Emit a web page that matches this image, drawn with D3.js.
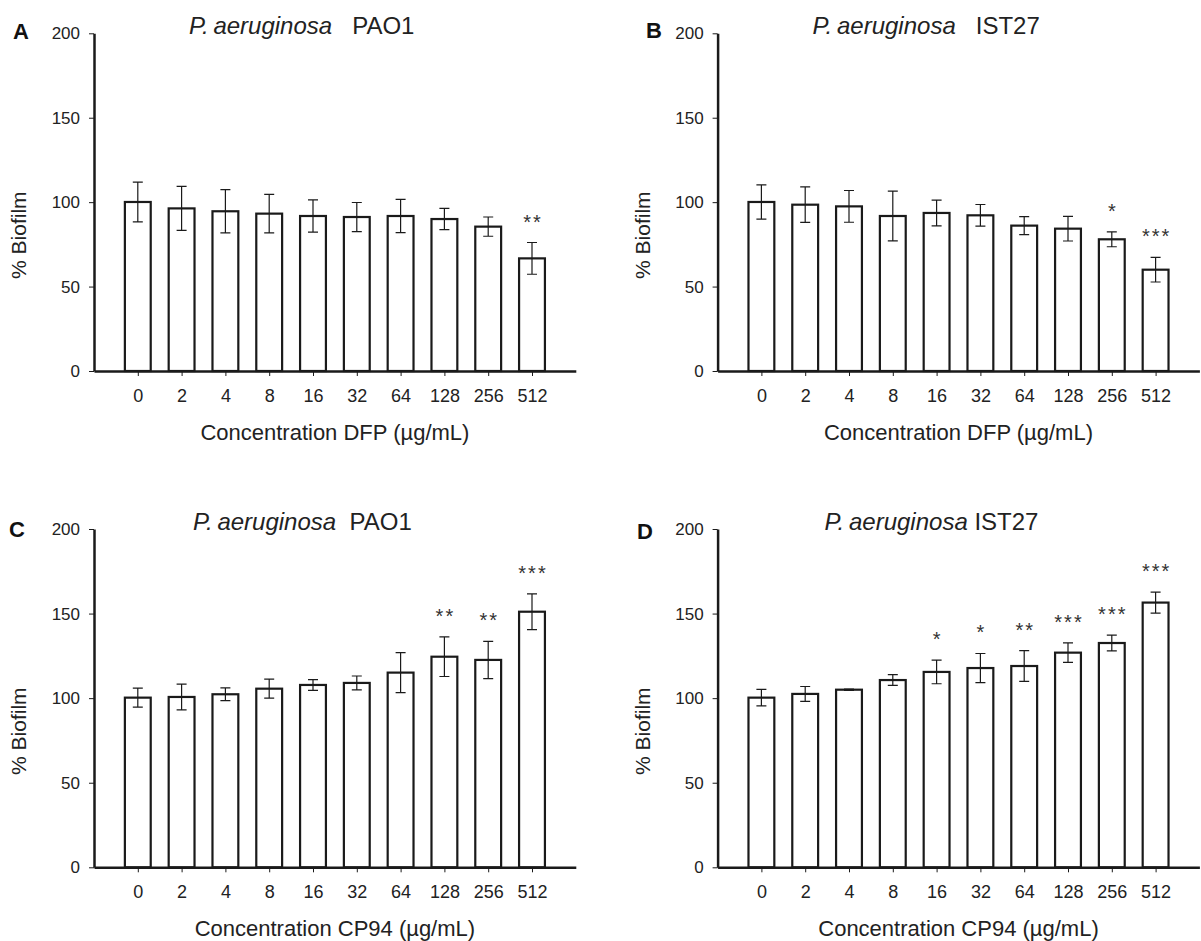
<!DOCTYPE html>
<html>
    <head>
        <meta charset="utf-8">
        <title>Biofilm</title>
        <script src="https://d3js.org/d3.v7.min.js" charset="utf-8"></script>
        <style>
            body { margin: 0; background: #fff; }
            svg { font-family: "Liberation Sans", Arial, sans-serif; }
            .axis path, .axis line { stroke: #1a1a1a; }
            .axis text { fill: #222; }
            .bar { fill: #fff; stroke: #1a1a1a; stroke-width: 2.2px; }
            .err { stroke: #1a1a1a; stroke-width: 1.2px; fill: none; }
        </style>
    </head>
    <body>
        <script>
            var width = 1201;
            var height = 941;

            // podaci
            var concentrations = ["0", "2", "4", "8", "16", "32", "64", "128", "256", "512"];
            var yTicks = [0, 50, 100, 150, 200];

            var dfpPao1 = [100.1, 96.3, 94.6, 93.2, 91.8, 91.2, 91.8, 90.0, 85.5, 66.7];
            var dfpPao1Err = [11.8, 13.0, 12.8, 11.4, 9.5, 8.6, 9.8, 6.3, 5.7, 9.4];
            var dfpPao1Sig = ["", "", "", "", "", "", "", "", "", "**"];

            var dfpIst27 = [100.1, 98.5, 97.5, 91.8, 93.6, 92.2, 86.1, 84.3, 78.0, 60.0];
            var dfpIst27Err = [10.1, 10.5, 9.4, 14.7, 7.6, 6.4, 5.3, 7.3, 4.4, 7.3];
            var dfpIst27Sig = ["", "", "", "", "", "", "", "", "*", "***"];

            var cp94Pao1 = [100.3, 100.7, 102.3, 105.6, 107.8, 109.0, 115.1, 124.5, 122.6, 151.1];
            var cp94Pao1Err = [5.6, 7.6, 3.8, 5.6, 3.2, 4.1, 11.8, 11.7, 11.0, 10.6];
            var cp94Pao1Sig = ["", "", "", "", "", "", "", "**", "**", "***"];

            var cp94Ist27 = [100.3, 102.5, 105.0, 110.7, 115.5, 117.8, 119.0, 126.9, 132.6, 156.5];
            var cp94Ist27Err = [4.9, 4.4, 0.4, 3.2, 7.0, 8.6, 9.1, 5.8, 4.7, 6.2];
            var cp94Ist27Sig = ["", "", "", "", "*", "*", "**", "***", "***", "***"];

            var panels = [
                {letter: "A", strain: "PAO1", drug: "DFP", mean: dfpPao1, err: dfpPao1Err, sig: dfpPao1Sig},
                {letter: "B", strain: "IST27", drug: "DFP", mean: dfpIst27, err: dfpIst27Err, sig: dfpIst27Sig},
                {letter: "C", strain: "PAO1", drug: "CP94", mean: cp94Pao1, err: cp94Pao1Err, sig: cp94Pao1Sig},
                {letter: "D", strain: "IST27", drug: "CP94", mean: cp94Ist27, err: cp94Ist27Err, sig: cp94Ist27Sig}
            ];

            // raspored panela (lijevi rub osi, vrh = 200, dno = 0)
            var layout = [
                {left: 94, top: 33.3, bottom: 371, titleDx: 95, gap: "\u00a0\u00a0\u00a0", letterX: 13, letterY: 39},
                {left: 717.6, top: 33.3, bottom: 371, titleDx: 95, gap: "\u00a0\u00a0\u00a0", letterX: 646, letterY: 38},
                {left: 94, top: 529, bottom: 867.3, titleDx: 99, gap: "\u00a0\u00a0", letterX: 9, letterY: 537},
                {left: 717.6, top: 529, bottom: 867.3, titleDx: 107, gap: "\u00a0", letterX: 637, letterY: 539}
            ];
            var plotWidth = 481.8;

            var svg = d3.select("body").append("svg")
                            .attr("width", width)
                            .attr("height", height);

            panels.forEach(function(p, k) {
                var L = layout[k];
                var g = svg.append("g");

                var x = d3.scalePoint()
                            .domain(concentrations)
                            .range([L.left, L.left + plotWidth])
                            .padding(1);
                var y = d3.scaleLinear()
                            .domain([0, 200])
                            .range([L.bottom, L.top]);
                var barW = x.step() * 0.59;

                // stupci
                g.selectAll(".bar")
                    .data(concentrations)
                  .enter().append("rect")
                    .attr("class", "bar")
                    .attr("x", function(d) { return x(d) - barW / 2; })
                    .attr("width", barW)
                    .attr("y", function(d, i) { return y(p.mean[i]); })
                    .attr("height", function(d, i) { return y(0) - y(p.mean[i]); });

                // greske
                g.selectAll(".err")
                    .data(concentrations)
                  .enter().append("path")
                    .attr("class", "err")
                    .attr("d", function(d, i) {
                        var cx = x(d), y1 = y(p.mean[i] + p.err[i]), y2 = y(p.mean[i] - p.err[i]);
                        return "M" + (cx - 5) + "," + y1 + "H" + (cx + 5) +
                               "M" + cx + "," + y1 + "V" + y2 +
                               "M" + (cx - 5) + "," + y2 + "H" + (cx + 5);
                    });

                // zvjezdice
                g.selectAll(".sig")
                    .data(concentrations)
                  .enter().append("text")
                    .attr("class", "sig")
                    .attr("x", function(d) { return x(d) + 1; })
                    .attr("y", function(d, i) { return y(p.mean[i] + p.err[i]) - 14; })
                    .attr("text-anchor", "middle")
                    .style("font-size", "20px")
                    .style("letter-spacing", "2px")
                    .style("fill", "#333")
                    .text(function(d, i) { return p.sig[i]; });

                // osi
                var yAxis = g.append("g")
                    .attr("class", "axis")
                    .attr("transform", "translate(" + L.left + ",0)")
                    .call(d3.axisLeft(y).tickValues(yTicks).tickSize(5).tickPadding(9).tickSizeOuter(0));
                yAxis.select(".domain").attr("stroke-width", 2.5);
                yAxis.selectAll("text").style("font-size", "17px");

                var xAxis = g.append("g")
                    .attr("class", "axis")
                    .attr("transform", "translate(0," + L.bottom + ")")
                    .call(d3.axisBottom(x).tickSize(5).tickPadding(13).tickSizeOuter(0));
                xAxis.select(".domain").attr("stroke-width", 2.5);
                xAxis.selectAll("text").style("font-size", "18px");

                // naslovi
                var title = g.append("text")
                    .attr("x", L.left + L.titleDx)
                    .attr("y", L.top + 1)
                    .style("font-size", "24px")
                    .style("fill", "#222");
                title.append("tspan").style("font-style", "italic").text("P.\u2009aeruginosa");
                title.append("tspan").text(L.gap + p.strain);

                g.append("text")
                    .attr("x", L.letterX)
                    .attr("y", L.letterY)
                    .style("font-size", "22px")
                    .style("font-weight", "bold")
                    .style("fill", "#111")
                    .text(p.letter);

                g.append("text")
                    .attr("x", L.left + plotWidth / 2)
                    .attr("y", L.bottom + 69)
                    .attr("text-anchor", "middle")
                    .style("font-size", "22px")
                    .style("fill", "#222")
                    .text("Concentration " + p.drug + " (\u00b5g/mL)");

                g.append("text")
                    .attr("transform", "translate(" + (L.left - 68) + "," + ((L.top + L.bottom) / 2 + 33) + ") rotate(-90)")
                    .attr("text-anchor", "middle")
                    .style("font-size", "21px")
                    .style("fill", "#222")
                    .text("% Biofilm");
            });
        </script>
    </body>
</html>
